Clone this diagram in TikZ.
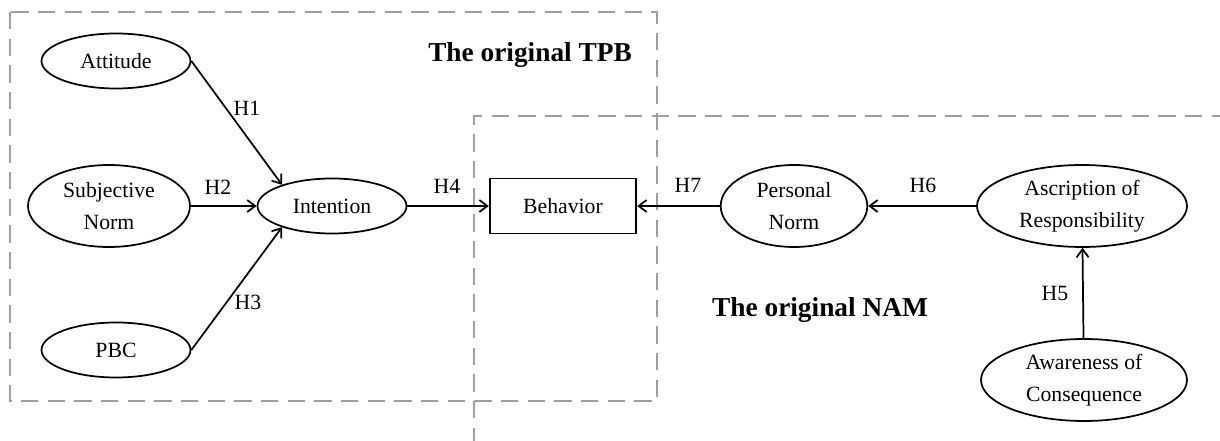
\documentclass[tikz,border=0pt]{standalone}
\usepackage{fontspec}
\setmainfont{Liberation Serif}
\usetikzlibrary{shapes.geometric,arrows.meta}

\begin{document}
\begin{tikzpicture}[x=0.75pt,y=-0.75pt,
    construct/.style={ellipse, draw, line width=1.3pt, inner sep=0pt, align=center,
        font=\rmfamily\fontsize{16.3}{24}\selectfont},
    single/.style={construct, minimum width=111.75pt, minimum height=41.25pt},
    double/.style={construct, minimum height=61.5pt},
    box/.style={rectangle, draw, line width=1.3pt, minimum width=110pt, minimum height=41.25pt,
        font=\rmfamily\fontsize{16.3}{24}\selectfont},
    path/.style={-{Straight Barb[length=6pt,width=9pt]}, line width=1.3pt},
    hyp/.style={font=\rmfamily\fontsize{16.3}{20}\selectfont, inner sep=0pt},
    frame/.style={draw=black!38, line width=2pt, dash pattern=on 13pt off 7pt},
    title/.style={font=\rmfamily\fontsize{20.5}{24}\selectfont\bfseries}]
    \clip (0,0) rectangle (1220,441);

    % Model frames
    \draw[frame] (10,12) rectangle (657,401);
    \draw[frame] (474,445) -- (474,116) -- (1230,116);
    \node[title] (tpb) at (530,55) {The original TPB};
    \node[title] (nam) at (820,310) {The original NAM};

    % TPB constructs
    \node[single] (att) at (116,61) {Attitude};
    \node[double, minimum width=121.5pt] (sn) at (109,206) {Subjective\\Norm};
    \node[single] (pbc) at (116,350) {PBC};
    \node[single] (int) at (332,206) {Intention};
    \node[box] (beh) at (563,206) {Behavior};

    % NAM constructs
    \node[double, minimum width=110pt] (pn) at (794,206) {Personal\\Norm};
    \node[double, minimum width=157.5pt] (ar) at (1082,206) {Ascription of\\Responsibility};
    \node[double, minimum width=154.5pt] (ac) at (1084,380) {Awareness of\\Consequence};

    % Hypotheses
    \draw[path] (att.east) -- (int.157);
    \draw[path] (sn) -- (int);
    \draw[path] (pbc.east) -- (int.203);
    \draw[path] (int) -- (beh);
    \draw[path] (pn) -- (beh);
    \draw[path] (ar) -- (pn);
    \draw[path] (ac) -- (ar);

    \node[hyp] (h1) at (247,108) {H1};
    \node[hyp] (h2) at (218,187) {H2};
    \node[hyp] (h3) at (248,302) {H3};
    \node[hyp] (h4) at (447,186) {H4};
    \node[hyp] (h5) at (1055,293) {H5};
    \node[hyp] (h6) at (923,185) {H6};
    \node[hyp] (h7) at (688,185) {H7};
\end{tikzpicture}
\end{document}
